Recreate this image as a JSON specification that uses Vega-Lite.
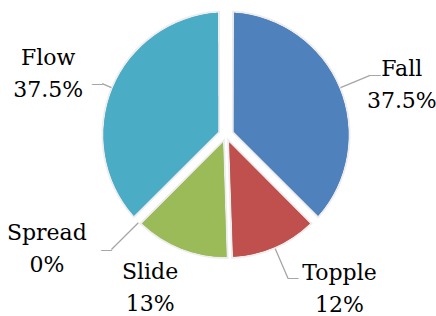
{
  "$schema": "https://vega.github.io/schema/vega-lite/v6.json",
  "width": 420,
  "height": 266,
  "autosize": {"type": "none"},
  "padding": {"left": 16, "right": 0, "top": 2, "bottom": 48},
  "background": "white",
  "config": {"view": {"stroke": null}, "text": {"font": "DejaVu Serif", "fontSize": 22, "lineHeight": 32, "color": "#000000"}},
  "data": {
    "values": [
      {"category": "Fall", "value": 37.5, "order": 1},
      {"category": "Topple", "value": 12, "order": 2},
      {"category": "Slide", "value": 13, "order": 3},
      {"category": "Spread", "value": 0, "order": 4},
      {"category": "Flow", "value": 37.5, "order": 5}
    ]
  },
  "transform": [
    {"stack": "value", "groupby": [], "sort": [{"field": "order", "order": "ascending"}], "as": ["v0", "v1"]},
    {"calculate": "(datum.v0 + datum.v1) / 2", "as": "vmid"},
    {"calculate": "datum.category + '\\n' + format(datum.value, '.1~f') + '%'", "as": "label"}
  ],
  "layer": [
    {
      "transform": [{"filter": "datum.category === 'Fall' || datum.category === 'Flow'"}],
      "mark": {"type": "arc", "innerRadius": 8.5, "outerRadius": 122.5, "padAngle": 0.1304, "stroke": "#000000", "strokeOpacity": 0.07, "strokeWidth": 4},
      "encoding": {
        "theta": {"field": "v0", "type": "quantitative", "stack": null, "scale": {"domain": [0, 100], "zero": true}},
        "theta2": {"field": "v1"},
        "color": {"field": "category", "type": "nominal", "legend": null,
          "scale": {"domain": ["Fall", "Topple", "Slide", "Spread", "Flow"], "range": ["#4F81BD", "#C0504D", "#9BBB59", "#8064A2", "#4BACC6"]}}
      }
    },
    {
      "transform": [{"filter": "datum.category === 'Topple' || datum.category === 'Slide'"}],
      "mark": {"type": "arc", "innerRadius": 8.2, "outerRadius": 122, "padAngle": 0.054, "stroke": "#000000", "strokeOpacity": 0.07, "strokeWidth": 4},
      "encoding": {
        "theta": {"field": "v0", "type": "quantitative", "stack": null},
        "theta2": {"field": "v1"},
        "color": {"field": "category", "type": "nominal", "legend": null}
      }
    },
    {
      "transform": [{"filter": "datum.category === 'Fall' || datum.category === 'Flow'"}],
      "mark": {"type": "arc", "innerRadius": 8.5, "outerRadius": 122.5, "padAngle": 0.1304},
      "encoding": {
        "theta": {"field": "v0", "type": "quantitative", "stack": null},
        "theta2": {"field": "v1"},
        "color": {"field": "category", "type": "nominal", "legend": null}
      }
    },
    {
      "transform": [{"filter": "datum.category === 'Topple' || datum.category === 'Slide'"}],
      "mark": {"type": "arc", "innerRadius": 8.2, "outerRadius": 122, "padAngle": 0.054},
      "encoding": {
        "theta": {"field": "v0", "type": "quantitative", "stack": null},
        "theta2": {"field": "v1"},
        "color": {"field": "category", "type": "nominal", "legend": null}
      }
    },
    {
      "transform": [{"filter": "datum.category === 'Fall' || datum.category === 'Topple'"}],
      "mark": {"type": "arc", "innerRadius": 124, "outerRadius": 156, "stroke": "#A6A6A6", "strokeWidth": 1.3, "fillOpacity": 0},
      "encoding": {
        "theta": {"field": "vmid", "type": "quantitative", "stack": null},
        "theta2": {"field": "vmid"}
      }
    },
    {
      "transform": [{"filter": "datum.category === 'Spread'"}],
      "mark": {"type": "arc", "innerRadius": 124, "outerRadius": 162, "stroke": "#A6A6A6", "strokeWidth": 1.3, "fillOpacity": 0},
      "encoding": {
        "theta": {"field": "vmid", "type": "quantitative", "stack": null},
        "theta2": {"field": "vmid"}
      }
    },
    {
      "transform": [{"filter": "datum.category === 'Flow'"}],
      "mark": {"type": "arc", "innerRadius": 124, "outerRadius": 134, "stroke": "#A6A6A6", "strokeWidth": 1.3, "fillOpacity": 0},
      "encoding": {
        "theta": {"field": "vmid", "type": "quantitative", "stack": null},
        "theta2": {"field": "vmid"}
      }
    },
    {
      "transform": [{"filter": "datum.category === 'Fall' || datum.category === 'Topple'"}],
      "mark": {"type": "text", "radius": 156, "text": "—", "font": "DejaVu Sans", "fontSize": 12, "align": "left", "baseline": "middle", "dx": -1, "color": "#A6A6A6"},
      "encoding": {"theta": {"field": "vmid", "type": "quantitative", "stack": null}}
    },
    {
      "transform": [{"filter": "datum.category === 'Spread'"}],
      "mark": {"type": "text", "radius": 162, "text": "—", "font": "DejaVu Sans", "fontSize": 12, "align": "right", "baseline": "middle", "dx": 1, "color": "#A6A6A6"},
      "encoding": {"theta": {"field": "vmid", "type": "quantitative", "stack": null}}
    },
    {
      "transform": [{"filter": "datum.category === 'Flow'"}],
      "mark": {"type": "text", "radius": 134, "text": "—", "font": "DejaVu Sans", "fontSize": 12, "align": "right", "baseline": "middle", "dx": 1, "color": "#A6A6A6"},
      "encoding": {"theta": {"field": "vmid", "type": "quantitative", "stack": null}}
    },
    {
      "transform": [{"filter": "datum.category === 'Fall'"}],
      "mark": {"type": "text", "radius": 160, "dx": 28, "dy": 2, "lineBreak": "\n", "align": "center", "baseline": "alphabetic"},
      "encoding": {"theta": {"field": "vmid", "type": "quantitative", "stack": null}, "text": {"field": "label", "type": "nominal"}}
    },
    {
      "transform": [{"filter": "datum.category === 'Topple'"}],
      "mark": {"type": "text", "radius": 160, "dx": 50, "dy": -2, "lineBreak": "\n", "align": "center", "baseline": "alphabetic"},
      "encoding": {"theta": {"field": "vmid", "type": "quantitative", "stack": null}, "text": {"field": "label", "type": "nominal"}}
    },
    {
      "transform": [{"filter": "datum.category === 'Slide'"}],
      "mark": {"type": "text", "radius": 160, "dx": -17, "dy": -5, "lineBreak": "\n", "align": "center", "baseline": "alphabetic"},
      "encoding": {"theta": {"field": "vmid", "type": "quantitative", "stack": null}, "text": {"field": "label", "type": "nominal"}}
    },
    {
      "transform": [{"filter": "datum.category === 'Spread'"}],
      "mark": {"type": "text", "radius": 160, "dx": -66, "dy": -8, "lineBreak": "\n", "align": "center", "baseline": "alphabetic"},
      "encoding": {"theta": {"field": "vmid", "type": "quantitative", "stack": null}, "text": {"field": "label", "type": "nominal"}}
    },
    {
      "transform": [{"filter": "datum.category === 'Flow'"}],
      "mark": {"type": "text", "radius": 160, "dx": -30, "dy": -9, "lineBreak": "\n", "align": "center", "baseline": "alphabetic"},
      "encoding": {"theta": {"field": "vmid", "type": "quantitative", "stack": null}, "text": {"field": "label", "type": "nominal"}}
    }
  ]
}
